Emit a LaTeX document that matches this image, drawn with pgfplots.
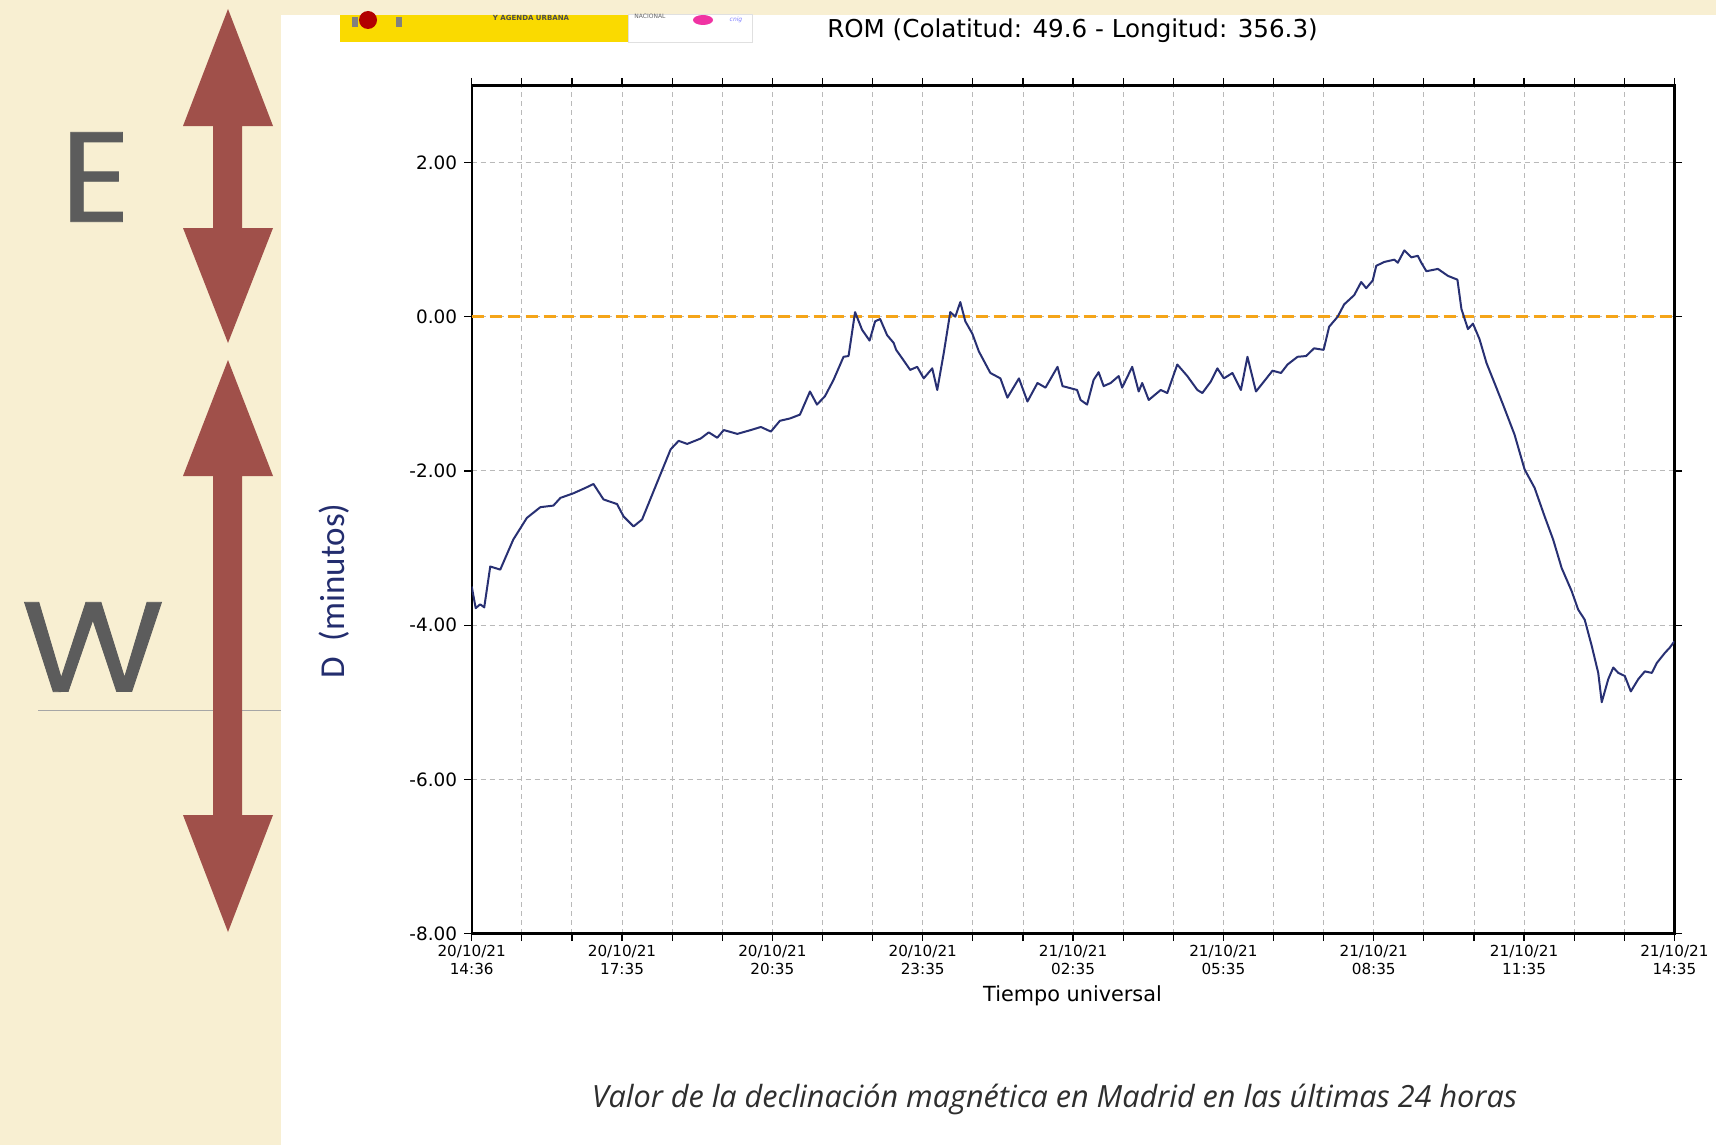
\documentclass[border=0pt]{standalone}
\usepackage{fontspec}
\setmainfont{DejaVu Sans}
\newfontfamily\carl{Carlito}
\newfontfamily\opens{Open Sans}
\newfontfamily\popp{Poppins}[FakeBold=0.6]
\usepackage{pgfplots}
\pgfplotsset{compat=1.18}
\definecolor{bgbeige}{RGB}{248,239,210}
\definecolor{arrowred}{RGB}{160,80,74}
\definecolor{egrey}{RGB}{92,92,92}
\definecolor{navyline}{RGB}{40,48,115}
\definecolor{labblue}{RGB}{35,45,110}
\definecolor{zeroorange}{RGB}{245,165,25}
\definecolor{gridgrey}{RGB}{185,185,185}
\definecolor{logoyellow}{RGB}{250,218,0}
\begin{document}
\begin{tikzpicture}
\useasboundingbox (0,0) rectangle (858pt,-572.5pt);
\fill[bgbeige] (0,0) rectangle (858pt,-572.5pt);
\begin{scope}[x=0.5pt,y=-0.5pt]
  % white panel
  \fill[white] (281,15) rectangle (1716,1145);
  % logos
  \fill[logoyellow] (340,15) rectangle (628,42);
  \fill[red!70!black] (368,20) circle (9);
  \fill[gray] (352,17) rectangle (358,27);
  \fill[gray] (396,17) rectangle (402,27);
  \node[font=\fontsize{3.5}{4}\selectfont\bfseries, text=black!70] at (531,18) {Y AGENDA URBANA};
  \draw[black!12, line width=0.5pt] (628,15) rectangle (752,43);
  \node[font=\fontsize{3}{3.5}\selectfont, text=black!60] at (650,16) {NACIONAL};
  \fill[magenta!80] (703,20) ellipse (10 and 5);
  \node[font=\fontsize{3}{3.5}\selectfont, text=blue!50] at (736,20) {\textit{cnig}};
  % left decorations
  \draw[black!35, line width=0.5pt] (38,710) -- (281,710);
  \fill[arrowred] (228,9) -- (273,126) -- (242,126) -- (242,228) -- (273,228) -- (228,343)
     -- (183,228) -- (213,228) -- (213,126) -- (183,126) -- cycle;
  \fill[arrowred] (228,360) -- (273,476) -- (242,476) -- (242,815) -- (273,815) -- (228,932)
     -- (183,815) -- (213,815) -- (213,476) -- (183,476) -- cycle;
  \node[text=egrey, inner sep=0pt, xscale=1.08, font=\popp\fontsize{64}{64}\selectfont] at (95.5,177) {E};
  \node[text=egrey, inner sep=0pt, xscale=1.15, font=\popp\fontsize{64}{64}\selectfont] at (93,647) {W};
  % texts
  \node[font=\fontsize{12.3}{14}\selectfont, inner sep=0pt] at (1072.5,31) {ROM (Colatitud: 49.6 - Longitud: 356.3)};
  \node[font=\fontsize{10.4}{12}\selectfont, inner sep=0pt] at (1072.5,996) {Tiempo universal};
  \node[rotate=90, text=labblue, font=\carl\fontsize{17.5}{19}\selectfont, inner sep=0pt] at (334,591) {D\ \ (minutos)};
  \node[text=black!82, font=\opens\itshape\fontsize{15.3}{17}\selectfont, inner sep=0pt] at (1054.5,1099) {Valor de la declinación magnética en Madrid en las últimas 24 horas};
\end{scope}
\begin{axis}[
  at={(235.85pt,-466.75pt)}, anchor=south west,
  scale only axis, width=601.35pt, height=424.05pt,
  xmin=0, xmax=24, ymin=-8, ymax=3,
  xtick={0,3,6,9,12,15,18,21,24},
  minor xtick={1,2,4,5,7,8,10,11,13,14,16,17,19,20,22,23},
  xticklabels={{20/10/21\\14:36},{20/10/21\\17:35},{20/10/21\\20:35},{20/10/21\\23:35},{21/10/21\\02:35},{21/10/21\\05:35},{21/10/21\\08:35},{21/10/21\\11:35},{21/10/21\\14:35}},
  xticklabel style={align=center, font=\fontsize{7.6}{8.8}\selectfont, inner sep=1pt, yshift=-1pt},
  ytick={-8,-6,-4,-2,0,2},
  yticklabels={-8.00,-6.00,-4.00,-2.00,0.00,2.00},
  yticklabel style={font=\fontsize{9.2}{10}\selectfont},
  grid=both,
  major grid style={gridgrey, line width=0.45pt, dash pattern=on 2.5pt off 2pt},
  minor grid style={gridgrey, line width=0.45pt, dash pattern=on 2.5pt off 2pt},
  tick align=outside,
  major tick length=3.8pt, minor tick length=3.8pt,
  tick style={black, line width=0.6pt},
  axis line style={black, line width=1.1pt},
]
\addplot[zeroorange, line width=1.5pt, dash pattern=on 6pt off 3pt] coordinates {(0,0) (24,0)};
\addplot[navyline, line width=1pt, line join=round] table {
x y
0 -3.50
0.08 -3.78
0.17 -3.73
0.25 -3.77
0.37 -3.24
0.57 -3.28
0.83 -2.89
1.10 -2.61
1.37 -2.47
1.63 -2.45
1.77 -2.35
2.03 -2.29
2.27 -2.22
2.43 -2.17
2.63 -2.37
2.90 -2.43
3.03 -2.59
3.23 -2.72
3.40 -2.63
3.70 -2.15
3.97 -1.72
4.13 -1.61
4.30 -1.65
4.57 -1.58
4.73 -1.50
4.90 -1.57
5.03 -1.47
5.30 -1.52
5.57 -1.47
5.77 -1.43
5.97 -1.49
6.15 -1.35
6.35 -1.32
6.55 -1.27
6.75 -0.97
6.89 -1.14
7.05 -1.03
7.22 -0.82
7.42 -0.52
7.52 -0.51
7.65 0.06
7.79 -0.17
7.94 -0.31
8.05 -0.06
8.15 -0.03
8.29 -0.24
8.42 -0.34
8.47 -0.43
8.59 -0.54
8.75 -0.69
8.89 -0.65
9.02 -0.80
9.19 -0.67
9.29 -0.95
9.42 -0.47
9.55 0.06
9.65 0.00
9.75 0.19
9.85 -0.06
9.99 -0.22
10.12 -0.45
10.35 -0.73
10.55 -0.80
10.69 -1.05
10.92 -0.80
11.09 -1.10
11.29 -0.86
11.45 -0.92
11.69 -0.65
11.79 -0.90
12.08 -0.95
12.15 -1.08
12.28 -1.14
12.41 -0.82
12.51 -0.72
12.61 -0.90
12.75 -0.86
12.91 -0.77
12.98 -0.92
13.18 -0.65
13.31 -0.97
13.38 -0.86
13.51 -1.08
13.75 -0.95
13.88 -0.99
14.08 -0.62
14.28 -0.77
14.48 -0.95
14.58 -0.99
14.75 -0.84
14.88 -0.67
15.01 -0.80
15.18 -0.73
15.35 -0.95
15.48 -0.52
15.65 -0.97
15.81 -0.84
15.98 -0.70
16.15 -0.73
16.28 -0.62
16.48 -0.52
16.65 -0.51
16.81 -0.41
17.00 -0.43
17.11 -0.13
17.28 0.00
17.41 0.16
17.61 0.28
17.75 0.45
17.85 0.37
17.98 0.47
18.05 0.66
18.21 0.71
18.41 0.74
18.48 0.70
18.61 0.86
18.75 0.77
18.88 0.79
18.95 0.70
19.05 0.59
19.28 0.62
19.48 0.53
19.67 0.48
19.75 0.10
19.88 -0.16
19.98 -0.09
20.11 -0.29
20.25 -0.60
20.41 -0.86
20.58 -1.14
20.81 -1.53
21.01 -1.98
21.21 -2.22
21.41 -2.59
21.58 -2.89
21.75 -3.26
21.95 -3.56
22.08 -3.80
22.21 -3.93
22.35 -4.27
22.48 -4.62
22.55 -5.00
22.68 -4.70
22.78 -4.55
22.88 -4.62
23.01 -4.66
23.13 -4.86
23.28 -4.70
23.41 -4.60
23.55 -4.62
23.65 -4.49
23.81 -4.36
23.91 -4.29
24.00 -4.21
};
\end{axis}
\end{tikzpicture}
\end{document}
